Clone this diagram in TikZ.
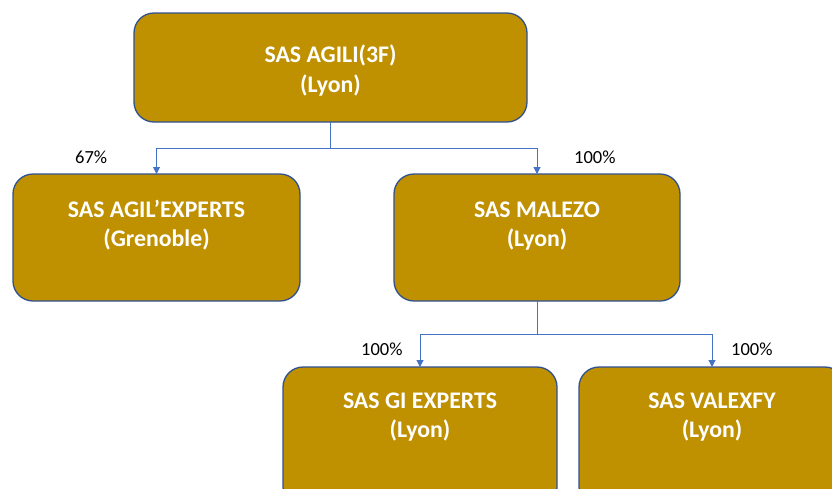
\documentclass[tikz,border=0pt]{standalone}
\usepackage{fontspec}
\setmainfont{Carlito}
\usetikzlibrary{arrows.meta}
\definecolor{gold}{HTML}{BF9000}
\definecolor{edgeblue}{HTML}{2F528F}
\definecolor{linkblue}{HTML}{4472C4}
\tikzset{
  orgbox/.style={draw=edgeblue, line width=1.3pt, fill=gold, rounded corners=20pt},
  boxtext/.style={text=white, font=\fontsize{23.8}{29.5}\selectfont\bfseries, align=center, anchor=base, inner sep=0pt},
  pct/.style={text=black, font=\fontsize{18.5}{22}\selectfont, anchor=base west, inner sep=0pt},
  link/.style={draw=linkblue, line width=1pt},
  linkarrow/.style={link, -{Triangle[width=7pt,length=7pt]}},
  slot/.style={inner sep=0pt, outer sep=0pt},
}
\begin{document}
\begin{tikzpicture}[x=1pt, y=-1pt]
\useasboundingbox (0,0) rectangle (832,488);
\clip (0,0) rectangle (832,488);
% box frames
\node[slot, minimum width=393pt, minimum height=109pt] (top) at (330.5,67.5) {};
\node[slot, minimum width=287pt, minimum height=127pt] (left) at (156.5,237.5) {};
\node[slot, minimum width=286pt, minimum height=127pt] (mid) at (537,237.5) {};
\node[slot, minimum width=274pt, minimum height=140pt] (gi) at (420,437) {};
\node[slot, minimum width=266pt, minimum height=140pt] (val) at (712,437) {};
\foreach \n in {top,left,mid,gi,val}
  \path[orgbox] (\n.north west) rectangle (\n.south east);
% texts (anchor = baseline of the last line)
\node[boxtext] (ttop) at (330.5,92) {SAS AGILI(3F)\\(Lyon)};
\node[boxtext] (tleft) at (156.5,246.5) {SAS AGIL’EXPERTS\\(Grenoble)};
\node[boxtext] (tmid) at (537,246.5) {SAS MALEZO\\(Lyon)};
\node[boxtext] (tgi) at (420,437.5) {SAS GI EXPERTS\\(Lyon)};
\node[boxtext] (tval) at (712,437.5) {SAS VALEXFY\\(Lyon)};
% connectors
\coordinate (j1) at (330.5,148);
\coordinate (j2) at (537,334);
\draw[link] (top.south) -- (j1);
\draw[linkarrow] (j1) -| (left.north);
\draw[linkarrow] (j1) -| (mid.north);
\draw[link] (mid.south) -- (j2);
\draw[linkarrow] (j2) -| (gi.north);
\draw[linkarrow] (j2) -| (val.north);
% percentages
\node[pct] (p1) at (75,163) {67\%};
\node[pct] (p2) at (574,163) {100\%};
\node[pct] (p3) at (361,355) {100\%};
\node[pct] (p4) at (731,355) {100\%};
\end{tikzpicture}
\end{document}
